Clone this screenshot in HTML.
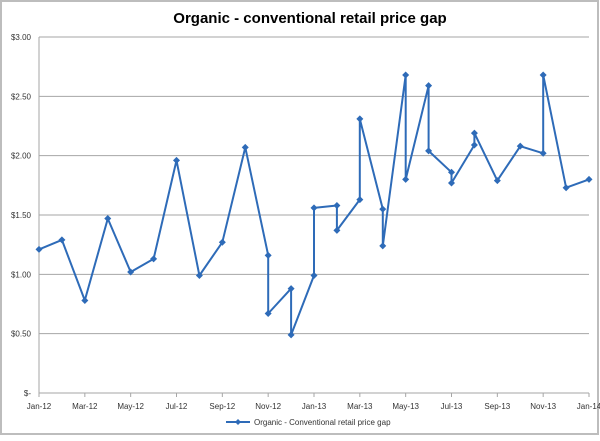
<!DOCTYPE html>
<html><head><meta charset="utf-8"><style>
body{margin:0;background:#fff;}
svg text{font-family:"Liberation Sans",sans-serif;}
</style></head><body>
<svg id="chart" width="600" height="436" xmlns="http://www.w3.org/2000/svg">
<rect x="1" y="1" width="597" height="433" fill="#fff" stroke="#bdbdbd" stroke-width="2"/>
<text x="310" y="23" text-anchor="middle" font-size="15" font-weight="bold" fill="#000">Organic - conventional  retail price gap</text>
<g id="grid"></g><g id="axes"></g><g id="series"></g>
<g>
<line x1="226" y1="422" x2="250" y2="422" stroke="#2e6bb8" stroke-width="2"/>
<path d="M238,419 L241,422 L238,425 L235,422Z" fill="#2e6bb8"/>
<text x="254" y="425" font-size="8" fill="#333">Organic - Conventional retail price gap</text>
</g>
</svg>
<script>
const monthIdx=[0,1,2,3,4,5,6,7,8,9,10,10,11,11,12,12,13,13,14,14,15,15,16,16,17,17,18,18,19,19,20,21,22,22,23,24];
const gapValues=[1.21,1.29,0.78,1.47,1.02,1.13,1.96,0.99,1.27,2.07,1.16,0.67,0.88,0.49,0.99,1.56,1.58,1.37,1.63,2.31,1.55,1.24,2.68,1.80,2.59,2.04,1.86,1.77,2.09,2.19,1.79,2.08,2.02,2.68,1.73,1.80];
const xTickLabels=["Jan-12","Mar-12","May-12","Jul-12","Sep-12","Nov-12","Jan-13","Mar-13","May-13","Jul-13","Sep-13","Nov-13","Jan-14"];
const yTickLabels=["$-","$0.50","$1.00","$1.50","$2.00","$2.50","$3.00"];
const yTickValues=[0,0.5,1,1.5,2,2.5,3];
const NS="http://www.w3.org/2000/svg";
const X0=39,X1=589,Y0=393,Y1=37;
const x=m=>X0+(X1-X0)*m/24;
const y=v=>Y0-(Y0-Y1)*v/3;
function mk(t,a,p){const e=document.createElementNS(NS,t);for(const k in a)e.setAttribute(k,a[k]);p.appendChild(e);return e;}
const grid=document.getElementById('grid'),axes=document.getElementById('axes'),ser=document.getElementById('series');
yTickValues.forEach((v,i)=>{
 if(v>0){const l=mk('line',{x1:X0,x2:X1,y1:y(v),y2:y(v),stroke:'#a6a6a6','stroke-width':1},grid);
 
 }
 const t=mk('text',{x:31,y:y(v)+3,'text-anchor':'end','font-size':8,fill:'#333'},axes);
 t.textContent=yTickLabels[i];
 
 
});
mk('line',{x1:X0,x2:X0,y1:Y1,y2:Y0,stroke:'#a6a6a6'},axes);
mk('line',{x1:X0,x2:X1,y1:Y0,y2:Y0,stroke:'#a6a6a6'},axes);
xTickLabels.forEach((s,i)=>{
 const m=i*2;
 mk('line',{x1:x(m),x2:x(m),y1:Y0,y2:Y0+4,stroke:'#a6a6a6'},axes);
 const t=mk('text',{x:x(m),y:Y0+16,'text-anchor':'middle','font-size':8,fill:'#333'},axes);
 t.textContent=s;
 
 
});
const pts=monthIdx.map((m,i)=>x(m).toFixed(1)+','+y(gapValues[i]).toFixed(1)).join(' ');
const pl=mk('polyline',{points:pts,fill:'none',stroke:'#2e6bb8','stroke-width':2,'stroke-linejoin':'round'},ser);


monthIdx.forEach((m,i)=>{
 const cx=x(m),cy=y(gapValues[i]);
 const d=mk('path',{d:`M${cx},${cy-3.5} L${cx+3.5},${cy} L${cx},${cy+3.5} L${cx-3.5},${cy}Z`,fill:'#2e6bb8'},ser);
 
 
});
</script>
</body></html>
